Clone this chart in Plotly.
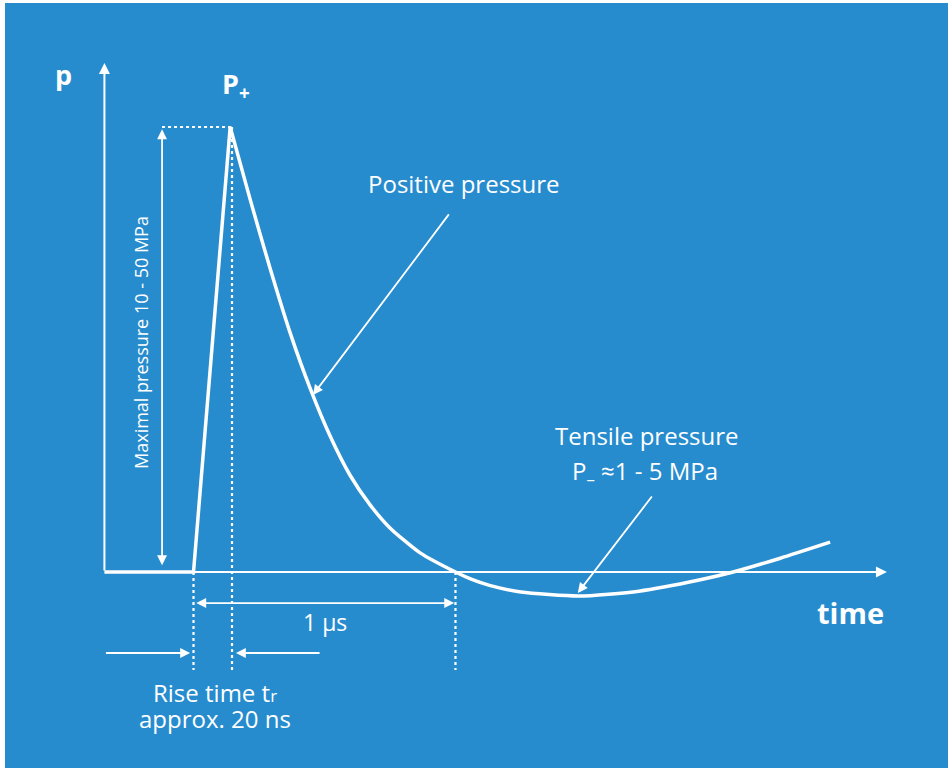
import plotly.graph_objects as go

# ---- data (time in microseconds, pressure relative to peak P+) ----
baseline_time = [-0.34, 0.0, 0.14]
baseline_pressure = [0.0, 0.0, 1.0]

decay_time = [0.14, 0.216, 0.292, 0.368, 0.445, 0.521, 0.597, 0.674, 0.75, 0.865, 1.0,
              1.06, 1.13, 1.25, 1.47, 1.70, 1.93, 2.06, 2.24, 2.43]
decay_pressure = [1.0, 0.838, 0.683, 0.539, 0.413, 0.306, 0.218, 0.151, 0.099, 0.043, 0.0,
                  -0.016, -0.030, -0.045, -0.054, -0.043, -0.018, 0.0, 0.031, 0.067]

rise_start = 0.0
peak_time = 0.147
pulse_end = 1.0
axis_start = -0.34
axis_end_time = 2.647
axis_end_pressure = 1.144

BLUE = "#278CCE"
WHITE = "white"
FONT = "Open Sans"

fig = go.Figure()
fig.add_trace(go.Scatter(x=baseline_time, y=baseline_pressure, mode="lines",
                         line=dict(color=WHITE, width=3.5), hoverinfo="skip"))
fig.add_trace(go.Scatter(x=decay_time, y=decay_pressure, mode="lines",
                         line=dict(color=WHITE, width=3.5, shape="spline", smoothing=0.6),
                         hoverinfo="skip"))

anns = []


def arrow(x0, y0, x1, y1, width=2, head=2, size=1.1, side="end"):
    anns.append(dict(x=x1, y=y1, ax=x0, ay=y0, xref="x", yref="y", axref="x", ayref="y",
                     text="", showarrow=True, arrowhead=head, startarrowhead=head,
                     arrowsize=size, startarrowsize=size, arrowside=side,
                     arrowwidth=width, arrowcolor=WHITE, standoff=0, startstandoff=0))


def label(x, y, text, size=24, bold=False, angle=0):
    anns.append(dict(x=x, y=y, xref="x", yref="y", text=("<b>%s</b>" % text) if bold else text,
                     showarrow=False, textangle=angle,
                     font=dict(family=FONT, size=size, color=WHITE),
                     xanchor="center", yanchor="middle"))


# axes
arrow(axis_start, 0, axis_end_time, 0, width=2)
arrow(axis_start, 0, axis_start, axis_end_pressure, width=2)

# maximal pressure double arrow
mx = -0.120
arrow(mx, 0.012, mx, 0.995, width=1.8, side="end+start")

# 1 µs double arrow
yus = -0.0697
arrow(rise_start + 0.005, yus, pulse_end - 0.005, yus, width=1.8, side="end+start")

# rise time arrows
yr = -0.182
arrow(axis_start, yr, -0.013, yr, width=1.8)
arrow(0.487, yr, 0.162, yr, width=1.8)

# pointer arrows
arrow(0.979, 0.807, 0.456, 0.398, width=1.8)
arrow(1.754, 0.173, 1.467, -0.047, width=1.8)

# dotted guide lines
shapes = []
dot = dict(color=WHITE, width=2.2, dash="dot")
shapes.append(dict(type="line", xref="x", yref="y", x0=mx, x1=peak_time, y0=1, y1=1, line=dot))
shapes.append(dict(type="line", xref="x", yref="y", x0=peak_time, x1=peak_time, y0=1, y1=-0.22, line=dot))
shapes.append(dict(type="line", xref="x", yref="y", x0=rise_start, x1=rise_start, y0=0, y1=-0.22, line=dot))
shapes.append(dict(type="line", xref="x", yref="y", x0=pulse_end, x1=pulse_end, y0=0, y1=-0.22, line=dot))

# labels
label(-0.498, 1.117, "p", size=27, bold=True)
label(0.162, 1.094, "P<sub>+</sub>", size=27, bold=True)
label(1.032, 0.874, "Positive pressure", size=24)
label(-0.200, 0.515, "Maximal pressure 10 - 50 MPa", size=18, angle=-90)
label(1.731, 0.306, "Tensile pressure", size=24)
label(1.723, 0.225, "P<sub>–</sub> ≈1 - 5 MPa", size=24)
label(0.502, -0.112, "1 µs", size=23)
label(0.082, -0.270, "Rise time t<span style='font-size:17px'>r</span>", size=24)
label(0.082, -0.330, "approx. 20 ns", size=24)
label(2.509, -0.090, "time", size=29, bold=True)

fig.update_layout(
    width=948, height=771,
    margin=dict(l=5, r=0, t=3, b=3),
    paper_bgcolor=WHITE, plot_bgcolor=BLUE,
    showlegend=False,
    xaxis=dict(range=[-0.7195, 2.880], visible=False, fixedrange=True),
    yaxis=dict(range=[-0.4404, 1.2787], visible=False, fixedrange=True),
    annotations=anns, shapes=shapes,
)

fig.write_html("out.html", config={"displayModeBar": False},
               post_script="document.body.style.margin='0';")
